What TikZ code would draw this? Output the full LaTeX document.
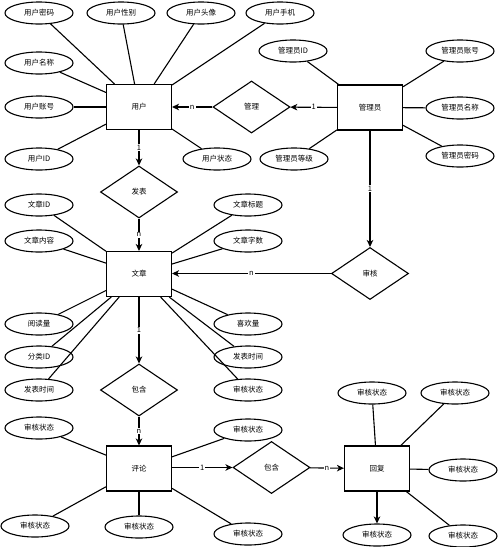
\documentclass[tikz,border=0pt]{standalone}
\usepackage{fontspec}
\newfontfamily\cjk{Noto Sans CJK SC}
\usetikzlibrary{shapes.geometric,arrows.meta}
\begin{document}
\begin{tikzpicture}[x=1pt,y=-1pt,
 ent/.style={draw, line width=1.1pt, minimum width=65pt, minimum height=45pt, inner sep=0pt},
 attr/.style={draw, ellipse, line width=1.1pt, minimum width=68pt, minimum height=22pt, inner sep=0pt},
 rel/.style={draw, diamond, line width=1.1pt, minimum width=77pt, minimum height=52pt, inner sep=0pt},
 lk/.style={line width=1.1pt},
 ar/.style={line width=1.1pt, -{Stealth[length=7pt,width=6.5pt,inset=2pt]}},
 card/.style={fill=white, inner sep=1pt, font=\cjk\fontsize{7.5}{8}\selectfont},
 font=\cjk\fontsize{7.5}{9}\selectfont]
\fill[white] (0,0) rectangle (500,547);
\useasboundingbox (0,0) rectangle (500,547);
% entities
\node[ent] (user) at (139,107) {用户};
\node[ent] (admin) at (370,107.5) {管理员};
\node[ent] (art) at (139,274) {文章};
\node[ent] (com) at (139,468.5) {评论};
\node[ent] (rep) at (377,468.5) {回复};
% relations
\node[rel] (mg) at (251.5,107) {管理};
\node[rel] (fb) at (139,192) {发表};
\node[rel] (sh) at (370,273.5) {审核};
\node[rel] (bh1) at (139,390) {包含};
\node[rel] (bh2) at (271.5,467.5) {包含};
% user attrs
\node[attr] (u1) at (39,13) {用户密码};
\node[attr] (u2) at (121,13) {用户性别};
\node[attr] (u3) at (201,13) {用户头像};
\node[attr] (u4) at (280,13) {用户手机};
\node[attr] (u5) at (39,63) {用户名称};
\node[attr] (u6) at (39,107) {用户账号};
\node[attr] (u7) at (39,159) {用户ID};
\node[attr] (u8) at (217,159) {用户状态};
\foreach \n in {u1,u2,u3,u4,u5,u6,u7,u8} \draw[lk] (\n) -- (user);
% admin attrs
\node[attr] (a1) at (293,51) {管理员ID};
\node[attr] (a2) at (460,51) {管理员账号};
\node[attr] (a3) at (460,108) {管理员名称};
\node[attr] (a4) at (460,156) {管理员密码};
\node[attr] (a5) at (294,159) {管理员等级};
\foreach \n in {a1,a2,a3,a4,a5} \draw[lk] (\n) -- (admin);
% article attrs
\node[attr] (w1) at (39,205) {文章ID};
\node[attr] (w2) at (39,241) {文章内容};
\node[attr] (w3) at (248,205) {文章标题};
\node[attr] (w4) at (248,241) {文章字数};
\node[attr] (w5) at (39,324) {阅读量};
\node[attr] (w6) at (39,357) {分类ID};
\node[attr] (w7) at (39,390) {发表时间};
\node[attr] (w8) at (248,324) {喜欢量};
\node[attr] (w9) at (248,357) {发表时间};
\node[attr] (w10) at (248,390) {审核状态};
\foreach \n in {w1,w2,w3,w4,w5,w6,w7,w8,w9,w10} \draw[lk] (\n) -- (art);
% comment attrs
\node[attr] (c1) at (39,428) {审核状态};
\node[attr] (c2) at (248,430) {审核状态};
\node[attr] (c3) at (35,526) {审核状态};
\node[attr] (c4) at (139,527) {审核状态};
\node[attr] (c5) at (248,534) {审核状态};
\foreach \n in {c1,c2,c3,c4,c5} \draw[lk] (\n) -- (com);
% reply attrs
\node[attr] (r1) at (372,393) {审核状态};
\node[attr] (r2) at (455,393) {审核状态};
\node[attr] (r3) at (463,470) {审核状态};
\node[attr] (r4) at (377,535) {审核状态};
\node[attr] (r5) at (463,536) {审核状态};
\foreach \n in {r1,r2,r3,r5} \draw[lk] (\n) -- (rep);
\draw[ar] (rep) -- (r4);
% relationship connectors
\draw[ar] (admin) -- node[card] {1} (mg);
\draw[ar] (mg) -- node[card] {n} (user);
\draw[ar] (user) -- node[card] {1} (fb);
\draw[ar] (fb) -- node[card] {n} (art);
\draw[ar] (admin) -- node[card] {1} (sh);
\draw[ar] (sh.west) -- node[card] {n} (art.east |- sh.west);
\draw[ar] (art) -- node[card] {1} (bh1);
\draw[ar] (bh1) -- node[card] {n} (com);
\draw[ar] (com.east |- bh2.west) -- node[card] {1} (bh2.west);
\draw[ar] (bh2) -- node[card] {n} (rep);
\end{tikzpicture}
\end{document}
